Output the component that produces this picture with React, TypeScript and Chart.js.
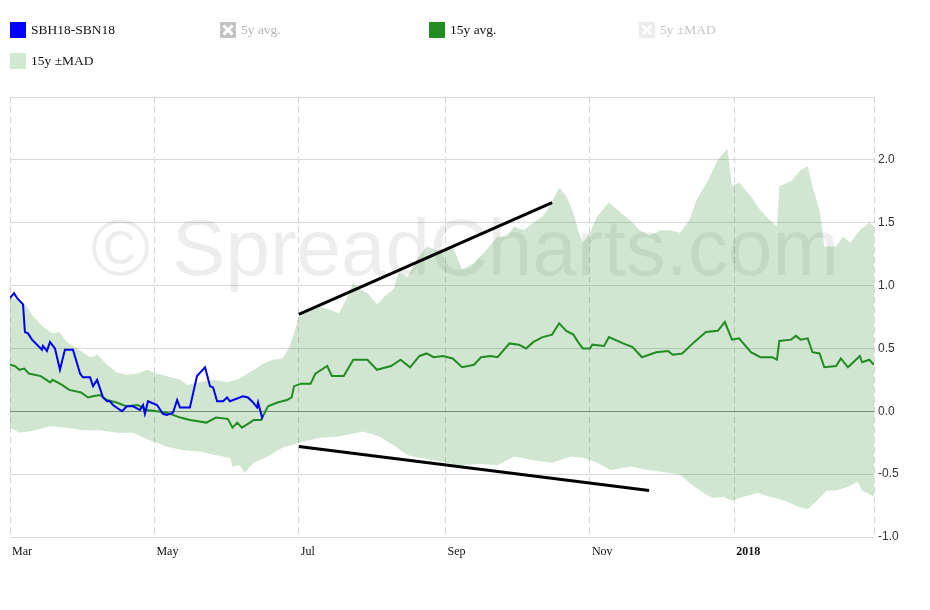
import React, { useEffect, useRef } from "react";
import { Chart, registerables } from "chart.js";

Chart.register(...registerables);

// x values are days since 1 Mar 2017
const tickDays = [0, 61, 122, 184, 245, 306, 365];
const tickLabels = ["Mar", "May", "Jul", "Sep", "Nov", "2018", ""];

const spreadDays = [0, 1.7, 3.0, 5.5, 6.3, 7.6, 9.3, 13.5, 13.9, 15.6, 16.9, 19.0, 21.1, 23.2, 26.6, 29.6, 30.8, 33.8, 35.1, 36.8, 39.3, 41.0, 42.2, 43.5, 47.3, 49.4, 52.0, 54.9, 56.2, 57.0, 58.3, 62.1, 64.6, 66.3, 68.9, 70.6, 71.8, 76.0, 79.0, 82.4, 84.5, 85.8, 87.5, 90.0, 91.7, 92.9, 98.4, 100.5, 102.7, 104.4, 104.8, 106.5, 106.9];
const spreadValues = [0.90, 0.94, 0.90, 0.85, 0.63, 0.62, 0.57, 0.49, 0.52, 0.48, 0.55, 0.50, 0.33, 0.49, 0.49, 0.30, 0.27, 0.27, 0.20, 0.25, 0.11, 0.08, 0.08, 0.05, 0.00, 0.04, 0.04, 0.01, 0.05, -0.02, 0.08, 0.05, -0.02, -0.03, -0.01, 0.09, 0.03, 0.03, 0.28, 0.35, 0.20, 0.19, 0.08, 0.08, 0.11, 0.08, 0.12, 0.11, 0.07, 0.03, 0.07, -0.05, -0.03];

const avgDays = [0, 2, 4, 6, 8, 13, 17, 18, 22, 25, 30, 33, 35, 38, 41, 45, 49, 54, 58, 62, 66, 72, 76, 83, 87, 92, 94, 96, 98, 103, 106, 109, 113, 117, 119, 120, 123, 127, 129, 134, 136, 141, 145, 151, 155, 161, 165, 169, 173, 176, 179, 183, 187, 191, 196, 199, 203, 206, 211, 215, 218, 221, 225, 229, 232, 235, 238, 240, 242, 245, 246, 251, 253, 259, 263, 267, 273, 278, 280, 284, 289, 294, 299, 302, 305, 308, 313, 317, 322, 324, 325, 330, 332, 334, 337, 339, 342, 344, 349, 351, 354, 359, 360, 363, 365];
const avgValues = [0.37, 0.36, 0.33, 0.34, 0.30, 0.28, 0.23, 0.25, 0.21, 0.17, 0.15, 0.11, 0.12, 0.13, 0.09, 0.07, 0.04, 0.05, 0.01, 0.00, -0.01, -0.05, -0.07, -0.09, -0.05, -0.06, -0.13, -0.09, -0.13, -0.07, -0.07, 0.04, 0.07, 0.09, 0.11, 0.20, 0.22, 0.22, 0.30, 0.36, 0.28, 0.28, 0.41, 0.41, 0.33, 0.36, 0.41, 0.35, 0.44, 0.46, 0.43, 0.44, 0.42, 0.35, 0.37, 0.43, 0.44, 0.43, 0.54, 0.53, 0.50, 0.55, 0.59, 0.61, 0.70, 0.64, 0.61, 0.55, 0.50, 0.50, 0.53, 0.52, 0.59, 0.54, 0.51, 0.43, 0.47, 0.48, 0.45, 0.46, 0.55, 0.63, 0.64, 0.71, 0.57, 0.58, 0.47, 0.43, 0.43, 0.41, 0.56, 0.57, 0.60, 0.57, 0.58, 0.47, 0.46, 0.35, 0.36, 0.42, 0.35, 0.44, 0.39, 0.41, 0.37];

const madUpperDays = [0, 6, 10, 14, 18, 21, 24, 30, 34, 37, 41, 45, 49, 54, 58, 62, 66, 72, 75, 80, 86, 92, 97, 103, 107, 111, 115, 118, 120, 122, 125, 131, 135, 139, 142, 145, 148, 151, 155, 158, 162, 164, 168, 172, 176, 179, 183, 187, 191, 196, 200, 206, 210, 213, 217, 221, 225, 228, 232, 235, 238, 240, 242, 245, 248, 253, 258, 262, 266, 270, 275, 279, 283, 287, 290, 295, 299, 303, 305, 308, 313, 317, 321, 324, 325, 330, 334, 337, 339, 342, 344, 349, 352, 355, 359, 363, 365];
const madUpperValues = [0.91, 0.86, 0.75, 0.67, 0.62, 0.63, 0.55, 0.48, 0.43, 0.45, 0.37, 0.31, 0.29, 0.30, 0.33, 0.30, 0.28, 0.25, 0.21, 0.23, 0.25, 0.23, 0.26, 0.33, 0.38, 0.41, 0.42, 0.51, 0.62, 0.75, 0.78, 0.83, 0.81, 0.78, 0.89, 1.02, 0.97, 0.94, 0.85, 0.91, 0.97, 1.10, 1.07, 1.21, 1.31, 1.29, 1.26, 1.31, 1.13, 1.18, 1.26, 1.39, 1.39, 1.47, 1.44, 1.50, 1.55, 1.63, 1.78, 1.71, 1.58, 1.44, 1.34, 1.42, 1.55, 1.66, 1.58, 1.52, 1.44, 1.40, 1.44, 1.44, 1.42, 1.52, 1.68, 1.84, 2.00, 2.09, 1.79, 1.82, 1.71, 1.60, 1.52, 1.47, 1.79, 1.83, 1.92, 1.95, 1.79, 1.60, 1.31, 1.31, 1.39, 1.34, 1.44, 1.50, 1.47];

const madLowerDays = [0, 4, 8, 13, 17, 24, 31, 38, 45, 52, 59, 66, 73, 80, 87, 93, 94, 97, 99, 103, 109, 115, 122, 131, 139, 149, 156, 162, 168, 173, 182, 190, 199, 206, 213, 221, 229, 237, 242, 248, 254, 262, 270, 279, 283, 287, 293, 297, 301, 305, 310, 316, 321, 327, 333, 337, 341, 345, 349, 354, 358, 360, 365];
const madLowerValues = [-0.13, -0.17, -0.16, -0.14, -0.12, -0.13, -0.15, -0.15, -0.17, -0.17, -0.23, -0.28, -0.31, -0.32, -0.35, -0.37, -0.44, -0.43, -0.49, -0.41, -0.36, -0.29, -0.25, -0.21, -0.20, -0.16, -0.20, -0.27, -0.35, -0.37, -0.40, -0.43, -0.42, -0.43, -0.36, -0.39, -0.41, -0.36, -0.37, -0.41, -0.47, -0.44, -0.47, -0.49, -0.50, -0.57, -0.65, -0.69, -0.68, -0.71, -0.68, -0.65, -0.68, -0.71, -0.76, -0.78, -0.71, -0.63, -0.63, -0.60, -0.56, -0.63, -0.68];

const trendUpperDays = [122, 229];
const trendUpperValues = [0.77, 1.66];
const trendLowerDays = [122, 270];
const trendLowerValues = [-0.28, -0.63];

const toPoints = (xs: number[], ys: number[]) => xs.map((x, i) => ({ x, y: ys[i] }));

const watermarkPlugin = {
  id: "watermark",
  beforeDatasetsDraw(chart: any) {
    const ctx = chart.ctx;
    ctx.save();
    ctx.font = '80px "Liberation Sans", Arial, sans-serif';
    ctx.fillStyle = "rgba(0,0,0,0.07)";
    ctx.textAlign = "center";
    ctx.textBaseline = "alphabetic";
    ctx.fillText("© SpreadCharts.com", chart.width / 2, 275);
    ctx.restore();
  },
};

function XIcon({ fill }: { fill: string }) {
  return (
    <svg width="16" height="16" viewBox="0 0 16 16" style={{ display: "block" }}>
      <rect x="0" y="0" width="16" height="16" fill={fill} />
      <line x1="3.5" y1="3.5" x2="12.5" y2="12.5" stroke="#fff" strokeWidth="3" />
      <line x1="12.5" y1="3.5" x2="3.5" y2="12.5" stroke="#fff" strokeWidth="3" />
    </svg>
  );
}

function LegendItem({ left, top, icon, label, color }: any) {
  return (
    <div
      style={{
        position: "absolute",
        left,
        top,
        height: 16,
        display: "flex",
        alignItems: "center",
        gap: 5,
        fontFamily: '"Liberation Serif", "Times New Roman", serif',
        fontSize: 13.5,
        color,
        whiteSpace: "nowrap",
      }}
    >
      {icon}
      <span>{label}</span>
    </div>
  );
}

const box = (c: string) => <div style={{ width: 16, height: 16, background: c }} />;

export default function App() {
  const canvasRef = useRef<HTMLCanvasElement | null>(null);

  useEffect(() => {
    if (!canvasRef.current) return;
    const line = (data: any, color: string, width: number) => ({
      data,
      borderColor: color,
      borderWidth: width,
      pointRadius: 0,
      fill: false,
      tension: 0,
    });
    const chart = new Chart(canvasRef.current, {
      type: "line",
      data: {
        datasets: [
          { label: "SBH18-SBN18", ...line(toPoints(spreadDays, spreadValues), "#0000f0", 2) },
          { label: "15y avg.", ...line(toPoints(avgDays, avgValues), "#228b22", 2) },
          { label: "trend up", ...line(toPoints(trendUpperDays, trendUpperValues), "#000000", 3) },
          { label: "trend down", ...line(toPoints(trendLowerDays, trendLowerValues), "#000000", 3) },
          {
            label: "15y -MAD",
            data: toPoints(madLowerDays, madLowerValues),
            borderColor: "rgba(0,0,0,0)",
            borderWidth: 0,
            pointRadius: 0,
            fill: false,
          },
          {
            label: "15y +MAD",
            data: toPoints(madUpperDays, madUpperValues),
            borderColor: "rgba(0,0,0,0)",
            borderWidth: 0,
            pointRadius: 0,
            backgroundColor: "rgba(34,139,34,0.21)",
            fill: "-1",
          },
        ],
      },
      options: {
        responsive: false,
        animation: false,
        events: [],
        layout: { padding: { left: 10, top: 97, right: 0, bottom: 0 } },
        plugins: { legend: { display: false }, tooltip: { enabled: false } },
        scales: {
          x: {
            type: "linear",
            min: 0,
            max: 365,
            afterBuildTicks: (scale: any) => {
              scale.ticks = tickDays.map((v) => ({ value: v }));
            },
            afterFit: (scale: any) => {
              scale.height = 73;
            },
            grid: { color: "#d2d2d2", drawTicks: false, lineWidth: 1 },
            border: { display: false, dash: [6, 4] },
            ticks: {
              autoSkip: false,
              maxRotation: 0,
              align: "start",
              labelOffset: 2,
              padding: 8,
              color: "#111",
              font: (ctx: any) => ({
                family: '"Liberation Serif", "Times New Roman", serif',
                size: 12,
                weight: ctx.tick && ctx.tick.value === 306 ? "bold" : "normal",
              }),
              callback: (v: any) => {
                const i = tickDays.indexOf(Number(v));
                return i >= 0 ? tickLabels[i] : "";
              },
            },
          },
          y: {
            position: "right",
            min: -1,
            max: 2.5,
            afterFit: (scale: any) => {
              scale.width = 56;
            },
            grid: {
              drawTicks: false,
              color: (ctx: any) =>
                ctx.tick && ctx.tick.value === 0 ? "#8f8f8f" : "#d8d8d8",
            },
            border: { display: false },
            ticks: {
              stepSize: 0.5,
              padding: 4,
              color: "#333",
              font: { family: '"Liberation Sans", Arial, sans-serif', size: 12 },
              callback: (v: any) => (Number(v) > 2.4 ? "" : Number(v).toFixed(1)),
            },
          },
        },
      },
      plugins: [watermarkPlugin],
    } as any);
    return () => chart.destroy();
  }, []);

  return (
    <div style={{ position: "absolute", left: 0, top: 0, width: 930, height: 610, background: "#fff" }}>
      <canvas
        ref={canvasRef}
        width={930}
        height={610}
        style={{ position: "absolute", left: 0, top: 0, width: 930, height: 610 }}
      />
      <LegendItem left={10} top={22} icon={box("#0000ff")} label="SBH18-SBN18" color="#111" />
      <LegendItem left={220} top={22} icon={<XIcon fill="#c4c4c4" />} label="5y avg." color="#b5b5b5" />
      <LegendItem left={429} top={22} icon={box("#228b22")} label="15y avg." color="#111" />
      <LegendItem left={639} top={22} icon={<XIcon fill="#ececec" />} label="5y ±MAD" color="#c5c5c5" />
      <LegendItem left={10} top={53} icon={box("#d1e8d1")} label="15y ±MAD" color="#111" />
    </div>
  );
}
